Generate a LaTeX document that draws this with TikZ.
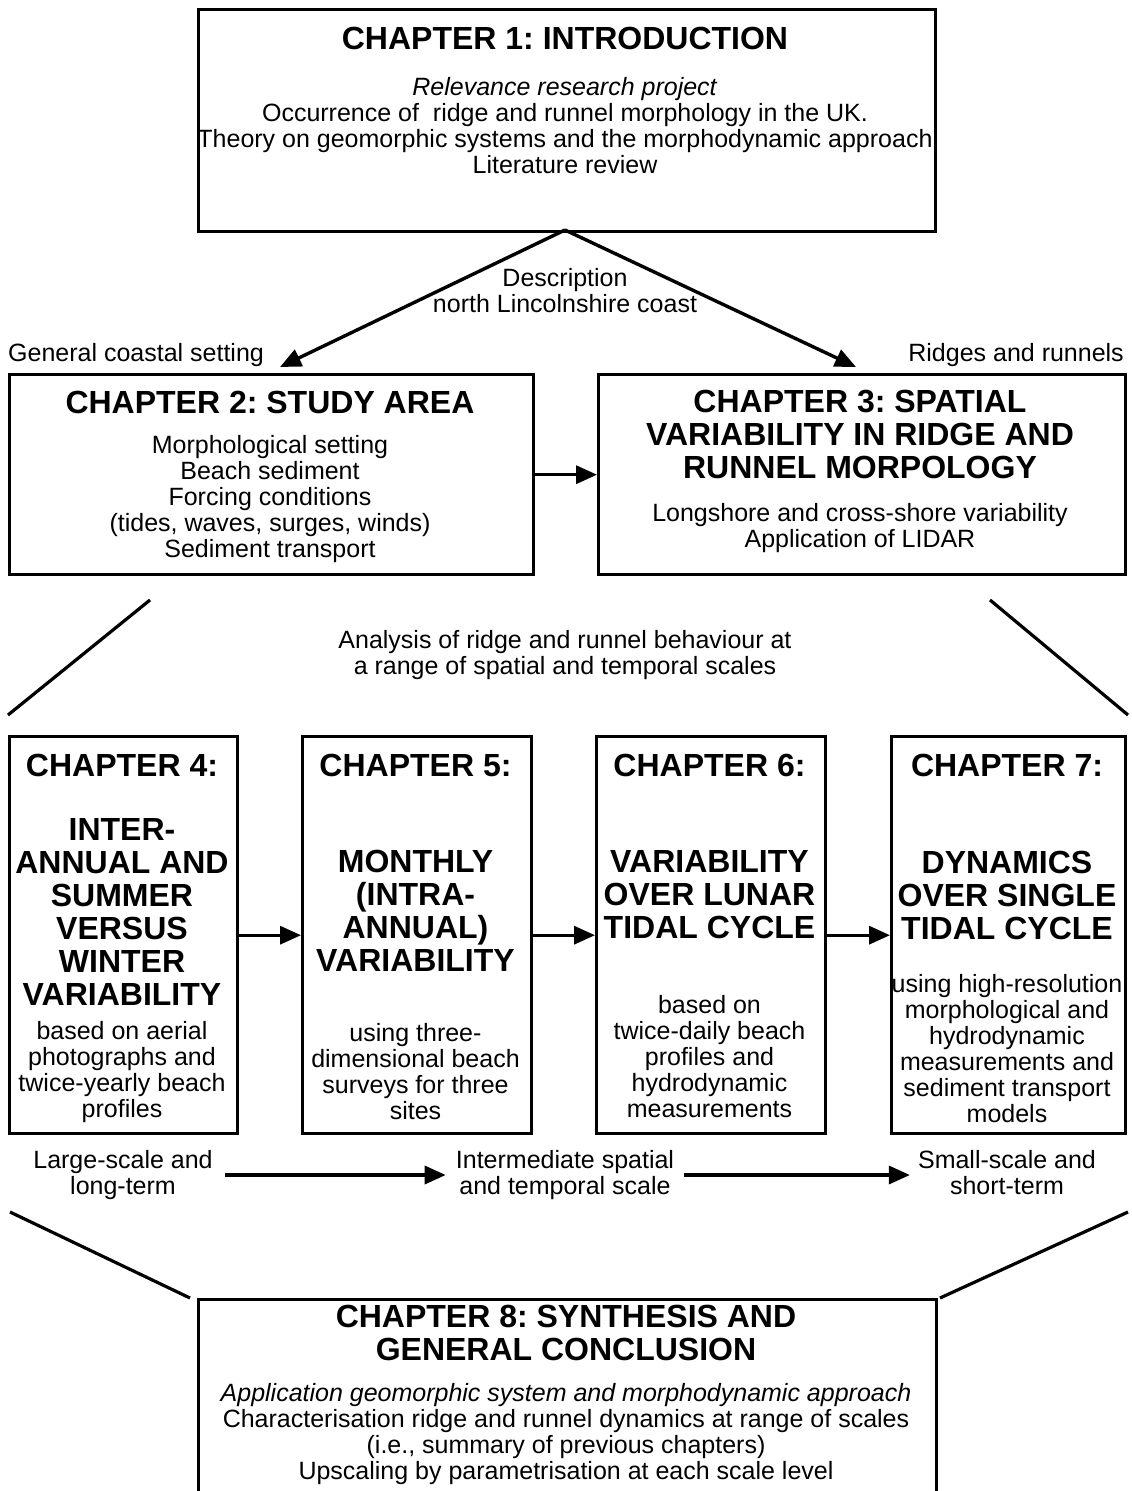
\documentclass[tikz,border=0pt]{standalone}
\usepackage{fontspec}
\setmainfont{Liberation Sans}
\usetikzlibrary{arrows.meta}
\frenchspacing
\begin{document}
\begin{tikzpicture}[x=1pt,y=-1pt,
  box/.style={draw, line width=3.4pt, inner sep=0pt, anchor=north west},
  arr/.style={line width=3.4pt, -{Triangle[length=21pt,width=18pt]}},
  ln/.style={line width=3.2pt},
  body/.style={font=\fontsize{25}{26}\selectfont, align=center, inner sep=0pt},
  head/.style={font=\fontsize{32}{33}\bfseries\selectfont, align=center, inner sep=0pt}]
\useasboundingbox[fill=white] (0,0) rectangle (1132,1491);

% boxes
\node[box, minimum width=737pt, minimum height=222pt] (c1) at (197,8) {};
\node[box, minimum width=524pt, minimum height=200pt] (c2) at (8,373) {};
\node[box, minimum width=527pt, minimum height=200pt] (c3) at (597,373) {};
\node[box, minimum width=228pt, minimum height=397pt] (c4) at (8,735) {};
\node[box, minimum width=229pt, minimum height=397pt] (c5) at (301,735) {};
\node[box, minimum width=229pt, minimum height=397pt] (c6) at (595,735) {};
\node[box, minimum width=234pt, minimum height=397pt] (c7) at (890,735) {};
\node[box, minimum width=738pt, minimum height=240pt] (c8) at (197,1298) {};

% chapter 1
\node[head] (h1) at (565,38) {CHAPTER 1: INTRODUCTION};
\node[body] (b1) at (565,126) {\textit{Relevance research project}\\Occurrence of\ \ ridge and runnel morphology in the UK.\\Theory on geomorphic systems and the morphodynamic approach\\Literature review};

% description
\node[body] (desc) at (565,291) {Description\\north Lincolnshire coast};
\coordinate (c1b) at (565,230);
\coordinate (t2) at (280,367);
\coordinate (t3) at (856,367);
\draw[arr] (c1b) -- (t2);
\draw[arr] (c1b) -- (t3);
\node[body, anchor=west] (gcs) at (8,355) {General coastal setting};
\node[body, anchor=east] (rr) at (1124,355) {Ridges and runnels};

% chapter 2
\node[head] (h2) at (270,402) {CHAPTER 2: STUDY AREA};
\node[body] (b2) at (270,499) {Morphological setting\\Beach sediment\\Forcing conditions\\(tides, waves, surges, winds)\\Sediment transport};

% chapter 3
\node[head] (h3) at (860,434) {CHAPTER 3: SPATIAL\\VARIABILITY IN RIDGE AND\\RUNNEL MORPOLOGY};
\node[body] (b3) at (860,528) {Longshore and cross-shore variability\\Application of LIDAR};

\draw[arr] (c2.east) -- (c3.west);

% analysis
\node[body] (an) at (565,655) {Analysis of ridge and runnel behaviour at\\a range of spatial and temporal scales};
\coordinate (l1a) at (150,600); \coordinate (l1b) at (8,715);
\coordinate (r1a) at (990,600); \coordinate (r1b) at (1128,715);
\draw[ln] (l1a) -- (l1b);
\draw[ln] (r1a) -- (r1b);

% chapters 4-7
\node[head] (h4) at (122,765) {CHAPTER 4:};
\node[head] (m4) at (122,912) {INTER-\\ANNUAL AND\\SUMMER\\VERSUS\\WINTER\\VARIABILITY};
\node[body] (s4) at (122,1072) {based on aerial\\photographs and\\twice-yearly beach\\profiles};

\node[head] (h5) at (415.5,765) {CHAPTER 5:};
\node[head] (m5) at (415.5,911) {MONTHLY\\(INTRA-\\ANNUAL)\\VARIABILITY};
\node[body] (s5) at (415.5,1072) {using three-\\dimensional beach\\surveys for three\\sites};

\node[head] (h6) at (709.5,765) {CHAPTER 6:};
\node[head] (m6) at (709.5,895) {VARIABILITY\\OVER LUNAR\\TIDAL CYCLE};
\node[body] (s6) at (709.5,1057) {based on\\twice-daily beach\\profiles and\\hydrodynamic\\measurements};

\node[head] (h7) at (1007,765) {CHAPTER 7:};
\node[head] (m7) at (1007,895) {DYNAMICS\\OVER SINGLE\\TIDAL CYCLE};
\node[body] (s7) at (1007,1049) {using high-resolution\\morphological and\\hydrodynamic\\measurements and\\sediment transport\\models};

\draw[arr] (c4.east) -- (c5.west);
\draw[arr] (c5.east) -- (c6.west);
\draw[arr] (c6.east) -- (c7.west);

% scales
\node[body] (sl) at (123,1175) {Large-scale and\\long-term};
\node[body] (sm) at (565,1175) {Intermediate spatial\\and temporal scale};
\node[body] (ss) at (1007,1175) {Small-scale and\\short-term\vphantom{g}};
\draw[arr, shorten <=12pt, shorten >=10pt] (sl.east) -- (sm.west);
\draw[arr, shorten <=10pt, shorten >=8pt] (sm.east) -- (ss.west);

\coordinate (l2a) at (10,1212); \coordinate (l2b) at (190,1298);
\coordinate (r2a) at (1128,1212); \coordinate (r2b) at (940,1298);
\draw[ln] (l2a) -- (l2b);
\draw[ln] (r2a) -- (r2b);

% chapter 8
\node[head] (h8) at (566,1333) {CHAPTER 8: SYNTHESIS AND\\GENERAL CONCLUSION};
\node[body] (b8) at (566,1434) {\textit{Application geomorphic system and morphodynamic approach}\\Characterisation ridge and runnel dynamics at range of scales\\(i.e., summary of previous chapters)\\Upscaling by parametrisation at each scale level};
\end{tikzpicture}
\end{document}
